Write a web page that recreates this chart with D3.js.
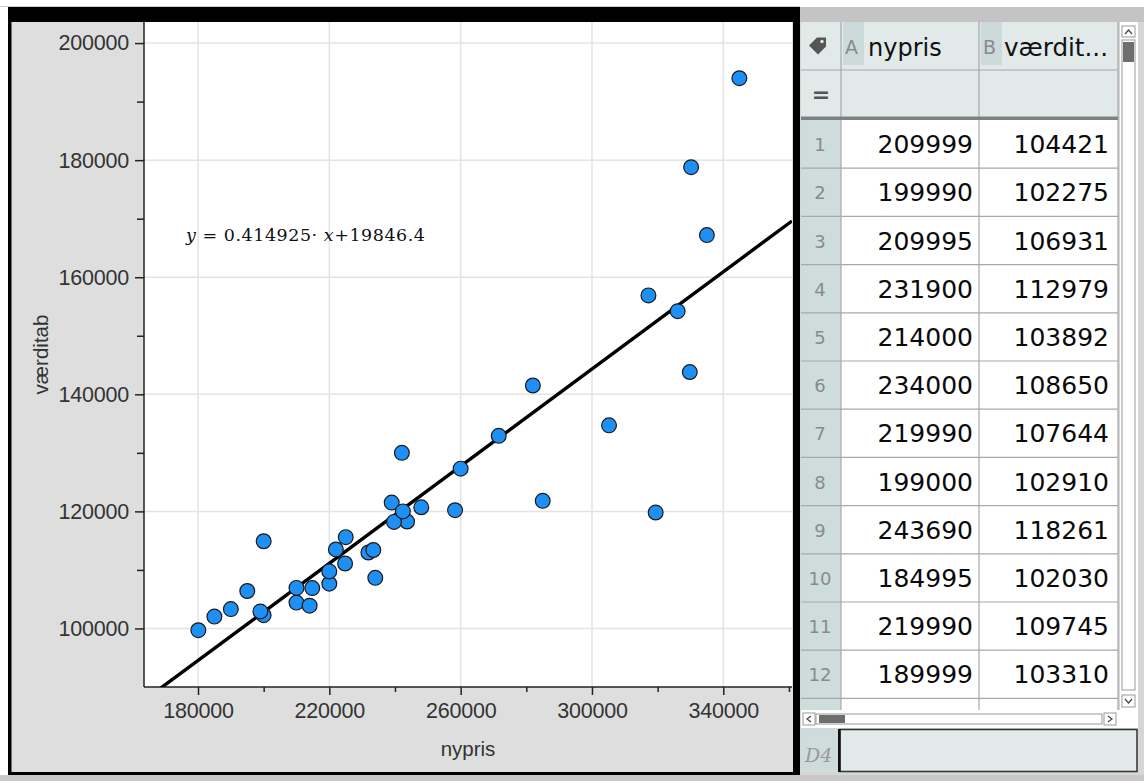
<!DOCTYPE html>
<html>
<head>
<meta charset="utf-8">
<script src="https://cdn.jsdelivr.net/npm/d3@7"></script>
<style>
  html, body { margin: 0; padding: 0; background: #fff; }
  svg { display: block; }
</style>
</head>
<body>
<svg id="chart" width="1144" height="781"></svg>
<script>
// ---------- data ----------
const nypris = [209999, 199990, 209995, 231900, 214000, 234000, 219990, 199000, 243690, 184995, 219990, 189999,
  180100, 195000, 200000, 214800, 222000, 225000, 224800, 233400, 239000, 239700, 242100, 242400, 248000,
  258300, 260000, 271600, 282000, 285000, 305200, 317200, 319400, 326100, 329800, 330200, 335000, 344900];
const vaerditab = [104421, 102275, 106931, 112979, 103892, 108650, 107644, 102910, 118261, 102030, 109745, 103310,
  99700, 106400, 114900, 106900, 113500, 115600, 111100, 113400, 121500, 118200, 130000, 120000, 120700,
  120200, 127300, 132900, 141500, 121800, 134700, 156900, 119800, 154200, 143800, 178800, 167200, 194000];
const slope = 0.414925, intercept = 19846.4;
const xMajorTicks = [180000, 220000, 260000, 300000, 340000];
const xMinorTicks = [200000, 240000, 280000, 320000, 360000];
const yMajorTicks = [100000, 120000, 140000, 160000, 180000, 200000];
const yMinorTicks = [110000, 130000, 150000, 170000, 190000];
const tableRows = [1,2,3,4,5,6,7,8,9,10,11,12];
const colA = nypris.slice(0, 12);
const colB = vaerditab.slice(0, 12);
const equationText = ["y", " = 0.414925· ", "x", "+19846.4"];

// ---------- layout ----------
const svg = d3.select("#chart");
const P = { left: 144, right: 792, top: 22, bottom: 687 };
const x = d3.scaleLinear().domain([163550, 360930]).range([P.left, P.right]);
const y = d3.scaleLinear().domain([90000, 203600]).range([P.bottom, P.top]);

svg.append("rect").attr("width", 1144).attr("height", 781).attr("fill", "#ffffff");
svg.append("rect").attr("x", 0).attr("y", 775).attr("width", 1144).attr("height", 6).attr("fill", "#c8c8c8");

// graph panel background
svg.append("rect").attr("x", 11).attr("y", 22).attr("width", 782).attr("height", 750).attr("fill", "#dedede");
svg.append("rect").attr("x", P.left).attr("y", P.top).attr("width", P.right - P.left).attr("height", P.bottom - P.top).attr("fill", "#ffffff");

svg.append("defs").append("clipPath").attr("id", "plotclip")
  .append("rect").attr("x", P.left).attr("y", P.top).attr("width", P.right - P.left).attr("height", P.bottom - P.top);

// grid
const grid = svg.append("g").attr("stroke", "#e4e4e4").attr("stroke-width", 1.5);
grid.selectAll(".gx").data(xMajorTicks).join("line")
  .attr("x1", d => x(d)).attr("x2", d => x(d)).attr("y1", P.top).attr("y2", P.bottom);
grid.selectAll(".gy").data(yMajorTicks).join("line")
  .attr("x1", P.left).attr("x2", P.right).attr("y1", d => y(d)).attr("y2", d => y(d));

// axes
const tickFont = "'Liberation Sans', Arial, sans-serif";
const xAxisMajor = d3.axisBottom(x).tickValues(xMajorTicks).tickSize(8).tickPadding(8).tickFormat(d3.format("d"));
const xAxisMinor = d3.axisBottom(x).tickValues(xMinorTicks).tickSize(5).tickFormat("");
const yAxisMajor = d3.axisLeft(y).tickValues(yMajorTicks).tickSize(9).tickPadding(6).tickFormat(d3.format("d"));
const yAxisMinor = d3.axisLeft(y).tickValues(yMinorTicks).tickSize(7).tickFormat("");

function styleAxis(g) {
  g.select(".domain").remove();
  g.selectAll(".tick line").attr("stroke", "#222").attr("stroke-width", 1.5);
  g.selectAll(".tick text").attr("fill", "#333").style("font-family", tickFont).style("font-size", "21.5px").attr("letter-spacing", "-0.2px");
}
svg.append("g").attr("transform", `translate(0,${P.bottom})`).call(xAxisMajor).call(styleAxis);
svg.append("g").attr("transform", `translate(0,${P.bottom})`).call(xAxisMinor).call(styleAxis);
svg.append("g").attr("transform", `translate(${P.left},0)`).call(yAxisMajor).call(styleAxis);
svg.append("g").attr("transform", `translate(${P.left},0)`).call(yAxisMinor).call(styleAxis);

svg.append("line").attr("x1", P.left).attr("x2", P.left).attr("y1", P.top).attr("y2", P.bottom).attr("stroke", "#222").attr("stroke-width", 1.5);
svg.append("line").attr("x1", P.left).attr("x2", P.right).attr("y1", P.bottom).attr("y2", P.bottom).attr("stroke", "#222").attr("stroke-width", 1.5);

// axis titles
svg.append("text").attr("x", (P.left + P.right) / 2).attr("y", 756).attr("text-anchor", "middle")
  .attr("fill", "#333").style("font-family", tickFont).style("font-size", "20.5px").text("nypris");
svg.append("text").attr("transform", `translate(48,${(P.top + P.bottom) / 2}) rotate(-90)`).attr("text-anchor", "middle")
  .attr("fill", "#333").style("font-family", tickFont).style("font-size", "20.5px").text("værditab");

// regression line
const plot = svg.append("g").attr("clip-path", "url(#plotclip)");
const xd = x.domain();
plot.append("line")
  .attr("x1", x(xd[0])).attr("y1", y(slope * xd[0] + intercept))
  .attr("x2", x(xd[1])).attr("y2", y(slope * xd[1] + intercept))
  .attr("stroke", "#000").attr("stroke-width", 3.4);

// points
const pts = nypris.map((v, i) => ({ x: v, y: vaerditab[i] }));
plot.selectAll("circle").data(pts).join("circle")
  .attr("cx", d => x(d.x)).attr("cy", d => y(d.y)).attr("r", 7.4)
  .attr("fill", "#1e8ff5").attr("stroke", "#1a1a1a").attr("stroke-width", 1.2);

// equation
const eq = svg.append("text").attr("x", 186).attr("y", 241)
  .attr("textLength", 239).attr("lengthAdjust", "spacing")
  .style("font-family", "'DejaVu Serif', 'Liberation Serif', serif").style("font-size", "17.5px").attr("fill", "#111");
eq.selectAll("tspan").data(equationText).join("tspan")
  .style("font-style", (d, i) => (i === 0 || i === 2) ? "italic" : "normal").text(d => d);

// black frame of graph panel
const frame = svg.append("g").attr("fill", "#000");
frame.append("rect").attr("x", 8).attr("y", 7).attr("width", 792).attr("height", 15);
frame.append("rect").attr("x", 8).attr("y", 7).attr("width", 3.5).attr("height", 768);
frame.append("rect").attr("x", 793).attr("y", 7).attr("width", 7).attr("height", 768);
frame.append("rect").attr("x", 8).attr("y", 772).attr("width", 792).attr("height", 3);
svg.append("line").attr("x1", 0).attr("x2", 800).attr("y1", 6.5).attr("y2", 6.5).attr("stroke", "#cfcfcf").attr("stroke-width", 1);

// ---------- table panel ----------
const T = svg.append("g");
const tf = "'DejaVu Sans', 'Noto Sans', sans-serif";
T.append("rect").attr("x", 800).attr("y", 7).attr("width", 344).attr("height", 15).attr("fill", "#c4c4c4");
T.append("rect").attr("x", 800).attr("y", 22).attr("width", 344).attr("height", 753).attr("fill", "#d6d6d6");
T.append("rect").attr("x", 801).attr("y", 22).attr("width", 317).attr("height", 688).attr("fill", "#ffffff");

const colX = [801, 841, 979, 1118];
const rowTop = 120, rowH = 48.2;
T.append("rect").attr("x", 801).attr("y", 22).attr("width", 317).attr("height", 96).attr("fill", "#e1e9e9");
T.append("rect").attr("x", 801).attr("y", 120).attr("width", 40).attr("height", 590).attr("fill", "#cfdcdc");
T.append("rect").attr("x", 843).attr("y", 22).attr("width", 21).attr("height", 43).attr("fill", "#cddada");
T.append("rect").attr("x", 981).attr("y", 22).attr("width", 21).attr("height", 43).attr("fill", "#cddada");

// tag icon
T.append("path").attr("d", "M 809 45.5 L 817 37.5 L 826 37.5 L 826 46.5 L 818 54.5 Z").attr("fill", "#555");
T.append("circle").attr("cx", 822).attr("cy", 41.5).attr("r", 1.7).attr("fill", "#e1e9e9");
T.append("text").attr("x", 821).attr("y", 102).attr("text-anchor", "middle").attr("fill", "#555")
  .style("font-family", tf).style("font-size", "22px").style("font-weight", "bold").text("=");

T.append("text").attr("x", 845).attr("y", 54).attr("fill", "#8a8a8a").style("font-family", tf).style("font-size", "19px").text("A");
T.append("text").attr("x", 868).attr("y", 56).attr("fill", "#111").style("font-family", tf).style("font-size", "24px").style("font-weight", "500").text("nypris");
T.append("text").attr("x", 983).attr("y", 54).attr("fill", "#8a8a8a").style("font-family", tf).style("font-size", "19px").text("B");
T.append("text").attr("x", 1004).attr("y", 56).attr("fill", "#111").style("font-family", tf).style("font-size", "24px").style("font-weight", "500")
  .attr("textLength", 104).attr("lengthAdjust", "spacingAndGlyphs").text("værdit...");

// grid lines
const lines = T.append("g").attr("stroke", "#a8a8a8").attr("stroke-width", 1.2);
colX.slice(1).forEach(cx => lines.append("line").attr("x1", cx).attr("x2", cx).attr("y1", 22).attr("y2", 710));
lines.append("line").attr("x1", 801).attr("x2", 1118).attr("y1", 70).attr("y2", 70);
tableRows.forEach((r, i) => {
  const yy = rowTop + (i + 1) * rowH;
  lines.append("line").attr("x1", 801).attr("x2", 1118).attr("y1", yy).attr("y2", yy);
});
T.append("rect").attr("x", 801).attr("y", 116.5).attr("width", 317).attr("height", 3.5).attr("fill", "#808080");

// cells
const rowsG = T.selectAll(".row").data(tableRows).join("g")
  .attr("transform", (d, i) => `translate(0,${rowTop + i * rowH + rowH / 2 + 9})`);
rowsG.append("text").attr("x", 820).attr("y", -2).attr("text-anchor", "middle").attr("fill", "#8a8a8a")
  .style("font-family", tf).style("font-size", "18px").text(d => d);
rowsG.append("text").attr("x", 973).attr("text-anchor", "end").attr("fill", "#0a0a0a")
  .style("font-family", tf).style("font-size", "25px").text((d, i) => colA[i]);
rowsG.append("text").attr("x", 1109).attr("text-anchor", "end").attr("fill", "#0a0a0a")
  .style("font-family", tf).style("font-size", "25px").text((d, i) => colB[i]);

// vertical scrollbar
T.append("rect").attr("x", 1120).attr("y", 22).attr("width", 18).attr("height", 690).attr("fill", "#ffffff");
T.append("rect").attr("x", 1122).attr("y", 26).attr("width", 13).attr("height", 11).attr("fill", "#fff").attr("stroke", "#999");
T.append("path").attr("d", "M 1125 34 L 1128.5 30 L 1132 34").attr("fill", "none").attr("stroke", "#444").attr("stroke-width", 1.2);
T.append("rect").attr("x", 1122).attr("y", 40).attr("width", 13).attr("height", 650).attr("fill", "#fff").attr("stroke", "#999");
T.append("rect").attr("x", 1123).attr("y", 42).attr("width", 11).attr("height", 20).attr("fill", "#6e6e6e");
T.append("rect").attr("x", 1122).attr("y", 695).attr("width", 13).attr("height", 12).attr("fill", "#fff").attr("stroke", "#999");
T.append("path").attr("d", "M 1125 699 L 1128.5 703 L 1132 699").attr("fill", "none").attr("stroke", "#444").attr("stroke-width", 1.2);

// horizontal scrollbar
T.append("rect").attr("x", 801).attr("y", 710).attr("width", 337).attr("height", 18).attr("fill", "#ffffff");
T.append("rect").attr("x", 803).attr("y", 713).attr("width", 12).attr("height", 12).attr("fill", "#fff").attr("stroke", "#999");
T.append("path").attr("d", "M 811 716 L 807 719 L 811 722").attr("fill", "none").attr("stroke", "#444").attr("stroke-width", 1.2);
T.append("rect").attr("x", 816).attr("y", 714).attr("width", 286).attr("height", 10).attr("fill", "#fff").attr("stroke", "#999");
T.append("rect").attr("x", 819).attr("y", 715).attr("width", 26).attr("height", 8).attr("fill", "#6e6e6e");
T.append("rect").attr("x", 1104).attr("y", 713).attr("width", 12).attr("height", 12).attr("fill", "#fff").attr("stroke", "#999");
T.append("path").attr("d", "M 1108 716 L 1112 719 L 1108 722").attr("fill", "none").attr("stroke", "#444").attr("stroke-width", 1.2);

// entry line
T.append("rect").attr("x", 801).attr("y", 729).attr("width", 38).attr("height", 43).attr("fill", "#cfdcdc");
T.append("rect").attr("x", 840).attr("y", 729.5).attr("width", 297).attr("height", 42).attr("fill", "#e1e9e9").attr("stroke", "#333").attr("stroke-width", 1.5);
T.append("rect").attr("x", 838).attr("y", 729).attr("width", 2.5).attr("height", 43).attr("fill", "#111");
T.append("text").attr("x", 805).attr("y", 762).attr("fill", "#999")
  .style("font-family", "'DejaVu Serif', serif").style("font-style", "italic").style("font-size", "19px").text("D4");
</script>
</body>
</html>
